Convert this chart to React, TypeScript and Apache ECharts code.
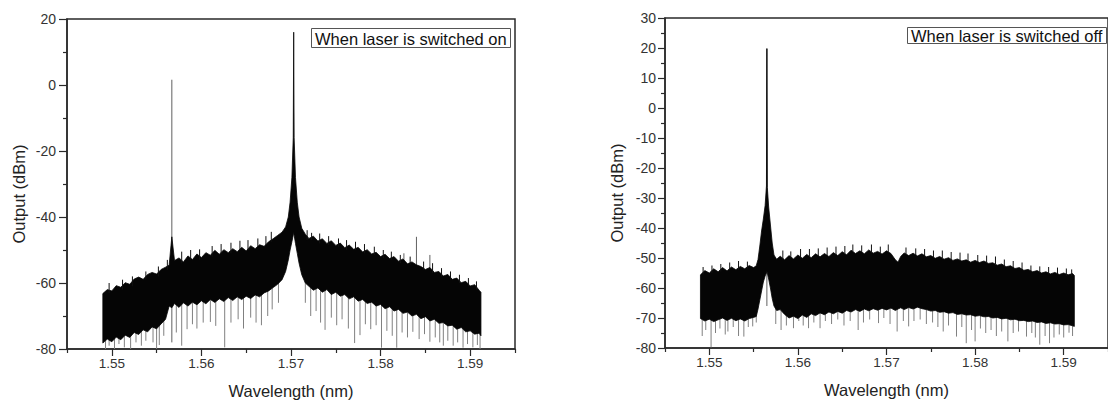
import React, { useEffect, useRef } from "react";
import * as echarts from "echarts";

// ---------- Panel 1: laser switched on ----------
const onWl = [
  1.5490, 1.5495, 1.5500, 1.5505, 1.5510, 1.5515, 1.5520, 1.5525, 1.5530, 1.5535,
  1.5540, 1.5545, 1.5550, 1.5555, 1.5560, 1.5564, 1.5567, 1.5570, 1.5575, 1.5580,
  1.5585, 1.5590, 1.5595, 1.5600, 1.5605, 1.5610, 1.5615, 1.5620, 1.5625, 1.5630,
  1.5635, 1.5640, 1.5645, 1.5650, 1.5655, 1.5660, 1.5665, 1.5670, 1.5675, 1.5680,
  1.5685, 1.5690, 1.5694, 1.5697, 1.5699, 1.5701, 1.57025, 1.5703, 1.57035, 1.5705,
  1.5707, 1.5709, 1.5712, 1.5716, 1.5720, 1.5725, 1.5730, 1.5735, 1.5740, 1.5745,
  1.5750, 1.5755, 1.5760, 1.5765, 1.5770, 1.5775, 1.5780, 1.5785, 1.5790, 1.5795,
  1.5800, 1.5805, 1.5810, 1.5815, 1.5820, 1.5825, 1.5830, 1.5835, 1.5840, 1.5845,
  1.5850, 1.5855, 1.5860, 1.5865, 1.5870, 1.5875, 1.5880, 1.5885, 1.5890, 1.5895,
  1.5900, 1.5905, 1.5910, 1.5912,
];
const onHigh = [
  -63.2, -62.0, -62.4, -60.8, -61.3, -59.9, -60.4, -58.8, -58.2, -58.9,
  -57.4, -56.8, -57.3, -55.9, -55.2, -54.6, -46.0, -53.2, -52.4, -53.6,
  -51.8, -52.9, -51.2, -52.3, -50.8, -51.6, -50.1, -51.3, -49.9, -50.8,
  -49.6, -50.5, -49.2, -50.3, -48.7, -49.6, -48.4, -48.9, -47.5, -46.6,
  -45.6, -44.6, -43.0, -40.0, -35.5, -28.0, -16.0, 16.0, -16.0, -28.0,
  -35.5, -40.0, -43.4, -45.2, -46.5, -45.8, -47.3, -46.6, -48.0, -47.2,
  -48.6, -47.9, -49.3, -48.5, -49.8, -49.2, -50.6, -49.9, -51.2, -50.7,
  -52.0, -51.3, -52.6, -52.0, -53.4, -52.7, -54.2, -53.6, -54.5, -55.0,
  -55.9, -55.3, -56.8, -56.5, -57.9, -57.4, -58.9, -58.5, -59.9, -59.5,
  -60.9, -60.5, -62.2, -62.8,
];
const onLow = [
  -78.2, -77.0, -77.8, -76.4, -77.2, -75.8, -76.5, -75.0, -75.6, -74.2,
  -74.8, -73.3, -73.9, -72.4, -71.0, -67.0, -67.5, -66.2, -67.4, -66.0,
  -67.0, -65.8, -66.6, -65.4, -66.3, -65.0, -65.9, -64.8, -65.6, -64.4,
  -65.3, -64.2, -65.0, -64.0, -64.7, -63.6, -64.2, -63.0, -62.4, -61.4,
  -60.4, -59.0, -56.5, -53.0, -50.0, -47.5, -45.5, -44.5, -45.5, -48.0,
  -51.0, -54.0, -57.5, -60.0, -61.0, -62.2, -61.5, -62.8, -62.0, -63.5,
  -62.8, -64.0, -63.5, -64.8, -64.2, -65.5, -65.0, -66.2, -65.8, -67.0,
  -66.5, -67.8, -67.2, -68.5, -68.0, -69.2, -68.8, -70.0, -69.5, -70.8,
  -70.2, -71.5, -71.0, -72.2, -72.0, -73.0, -72.8, -74.0, -73.5, -74.8,
  -74.5, -75.5, -75.2, -76.0,
];
// [wavelength, top, bottom] of the grey dips below the dense band
const onDips = [
  [1.5493, -75, -80], [1.5497, -74, -79], [1.5503, -74, -80], [1.5508, -73, -78.5],
  [1.5514, -73, -79.5], [1.5521, -73, -80], [1.5527, -72, -78], [1.5533, -72, -79],
  [1.5538, -71, -77.5], [1.5546, -70, -78], [1.555, -70, -80], [1.5553, -69, -78.8],
  [1.5558, -68, -76], [1.5572, -64, -75], [1.5578, -64, -79], [1.5584, -64, -74],
  [1.559, -63, -72.5], [1.5595, -63, -73.8], [1.5602, -63, -72], [1.561, -62, -71.8],
  [1.5616, -63, -73], [1.5626, -62, -79.5], [1.5633, -62, -72], [1.5641, -62, -71],
  [1.5647, -62, -73.8], [1.5655, -61, -70.5], [1.5661, -61, -72], [1.5667, -61, -72.8],
  [1.5674, -60, -70], [1.5679, -59, -68], [1.5686, -58, -66], [1.5716, -57, -66],
  [1.5722, -58, -70], [1.5728, -59, -68.5], [1.5733, -59, -72], [1.5738, -60, -74.2],
  [1.5745, -60, -70.5], [1.5751, -60, -72.8], [1.5757, -61, -71], [1.5764, -62, -73.8],
  [1.5771, -62, -78.2], [1.5777, -63, -75.8], [1.5783, -63, -72.5], [1.5789, -63, -74],
  [1.5795, -64, -72.8], [1.5801, -64, -79.6], [1.5807, -65, -74.5], [1.5813, -65, -76],
  [1.5818, -66, -79.6], [1.5824, -66, -75], [1.583, -66, -76.5], [1.5836, -67, -74.8],
  [1.5843, -68, -77], [1.5849, -68, -75.5], [1.5855, -69, -77.8], [1.5861, -69, -76.5],
  [1.5866, -70, -78], [1.587, -70, -79], [1.5875, -70, -77.5], [1.5881, -70, -79],
  [1.5886, -71, -78], [1.5892, -71, -79.6], [1.5897, -72, -78.5], [1.5903, -72, -79.5],
  [1.5908, -73, -78.8], [1.5911, -73, -80],
];
// [wavelength, bottom, top] of noise hairs poking above the dense band
const onHairs = [
  [1.5497, -63, -60], [1.5512, -62, -59], [1.5523, -61, -58], [1.5538, -59, -56.5],
  [1.5552, -58, -55], [1.5562, -56, -53], [1.5578, -54, -50.5], [1.5588, -53, -50],
  [1.5598, -53, -49.8], [1.5612, -52, -48.8], [1.5622, -51, -48.2], [1.5633, -51, -47.8],
  [1.5643, -50, -47.2], [1.5652, -50, -47], [1.5663, -49, -46.5], [1.5672, -48.5, -45.8],
  [1.5678, -47.5, -44.5], [1.5718, -47, -44], [1.5723, -47, -44.8], [1.5732, -48, -45],
  [1.5742, -48.5, -45.8], [1.5753, -49, -46.5], [1.5762, -50, -47], [1.5772, -50, -47.5],
  [1.5782, -51, -48.2], [1.5793, -51.5, -49], [1.5803, -52.5, -50], [1.5812, -53, -50.5],
  [1.5822, -54, -51.5], [1.5833, -54.5, -52], [1.5848, -56, -53.5], [1.5858, -57, -54],
  [1.5868, -58, -55.5], [1.5878, -59, -56.5], [1.5888, -60, -57.5], [1.5898, -61, -58.5],
  [1.5907, -62, -59.5],
];
// [wavelength, bottom, top] of thin upward lines
const onPeaks = [
  [1.5567, -78, 1.6], [1.584, -56, -46], [1.5855, -57, -51.5], [1.5826, -55, -51],
];

// ---------- Panel 2: laser switched off ----------
const offWl = [
  1.5490, 1.5495, 1.5500, 1.5505, 1.5510, 1.5515, 1.5520, 1.5525, 1.5530, 1.5535,
  1.5540, 1.5545, 1.5550, 1.5553, 1.5555, 1.5557, 1.5559, 1.5561, 1.5563, 1.55645,
  1.5565, 1.55655, 1.5567, 1.5569, 1.5571, 1.5573, 1.5576, 1.5580, 1.5585, 1.5590,
  1.5595, 1.5600, 1.5605, 1.5610, 1.5615, 1.5620, 1.5625, 1.5630, 1.5635, 1.5640,
  1.5645, 1.5650, 1.5655, 1.5660, 1.5665, 1.5670, 1.5675, 1.5680, 1.5685, 1.5690,
  1.5695, 1.5700, 1.5705, 1.5710, 1.5713, 1.5716, 1.5720, 1.5725, 1.5730, 1.5735,
  1.5740, 1.5745, 1.5750, 1.5755, 1.5760, 1.5765, 1.5770, 1.5775, 1.5780, 1.5785,
  1.5790, 1.5795, 1.5800, 1.5805, 1.5810, 1.5815, 1.5820, 1.5825, 1.5830, 1.5835,
  1.5840, 1.5845, 1.5850, 1.5855, 1.5860, 1.5865, 1.5870, 1.5875, 1.5880, 1.5885,
  1.5890, 1.5895, 1.5900, 1.5905, 1.5910, 1.5912,
];
const offHigh = [
  -55.6, -54.2, -55.0, -53.6, -54.6, -53.2, -54.3, -53.0, -53.9, -52.8,
  -53.6, -52.5, -53.2, -52.6, -50.5, -46.0, -41.0, -37.0, -32.5, -26.0,
  19.8, -26.5, -33.0, -39.0, -45.0, -49.0, -50.4, -49.4, -50.6, -49.2,
  -50.3, -49.0, -50.1, -48.8, -49.9, -48.6, -49.6, -48.5, -49.5, -48.2,
  -49.2, -47.9, -48.9, -47.4, -48.5, -47.6, -48.6, -47.3, -48.4, -47.8,
  -48.7, -47.6, -48.5, -50.6, -51.4, -49.5, -48.3, -49.2, -48.4, -49.3,
  -48.6, -49.6, -49.2, -50.1, -49.5, -50.4, -49.9, -50.8, -50.3, -51.0,
  -50.6, -51.4, -50.8, -51.5, -51.0, -51.8, -51.6, -52.4, -52.0, -52.9,
  -52.6, -53.5, -53.2, -54.1, -53.8, -54.6, -54.2, -55.0, -54.6, -55.3,
  -54.8, -55.5, -55.0, -55.6, -55.2, -55.8,
];
const offLow = [
  -70.2, -71.0, -70.4, -71.2, -70.6, -70.0, -70.8, -70.1, -70.9, -70.3,
  -71.0, -70.2, -69.8, -69.5, -67.0, -64.0, -61.0, -58.0, -56.0, -55.0,
  -54.5, -55.0, -57.0, -60.0, -63.5, -66.0, -67.5, -67.2, -68.8, -70.0,
  -69.4, -70.2, -69.0, -69.8, -68.6, -69.2, -68.3, -68.9, -68.0, -68.6,
  -67.8, -68.4, -67.5, -68.0, -67.2, -67.8, -67.0, -67.6, -66.9, -67.4,
  -66.8, -67.3, -66.7, -67.5, -67.0, -66.6, -67.2, -66.5, -67.0, -66.4,
  -66.9, -67.2, -67.7, -67.5, -68.1, -67.9, -68.4, -68.2, -68.8, -68.6,
  -69.0, -68.9, -69.4, -69.2, -69.6, -69.5, -70.0, -69.8, -70.3, -70.1,
  -70.6, -70.4, -70.9, -70.8, -71.2, -71.0, -71.5, -71.3, -71.8, -71.6,
  -72.0, -71.9, -72.3, -72.2, -72.6, -72.8,
];
const offDips = [
  [1.5492, -67, -76], [1.5496, -67, -74], [1.5502, -67, -79.8], [1.5507, -67, -75],
  [1.5512, -67, -73.5], [1.5518, -67, -75.5], [1.5521, -67, -74.5], [1.5527, -67, -73],
  [1.5533, -67, -76], [1.5539, -67, -76.2], [1.5544, -67, -73], [1.5549, -66, -72.8],
  [1.5553, -66, -71.5], [1.5575, -63, -72], [1.5581, -64, -74], [1.5587, -65, -72.5],
  [1.5595, -66, -73.4], [1.5601, -66, -71], [1.5606, -66, -72.5], [1.5612, -66, -73.4],
  [1.5618, -65, -71.5], [1.5625, -65, -73.4], [1.5631, -65, -71], [1.5638, -65, -72],
  [1.5645, -64, -70.5], [1.5652, -64, -72.5], [1.5659, -64, -71], [1.5668, -64, -74],
  [1.5674, -64, -71.5], [1.5681, -64, -70.5], [1.5691, -64, -71.7], [1.5697, -63, -70],
  [1.5704, -63, -72], [1.5712, -64, -74.5], [1.5719, -63, -71], [1.5725, -63, -72.8],
  [1.5731, -63, -71], [1.5738, -63, -70.5], [1.5745, -64, -72], [1.5752, -64, -71.5],
  [1.5758, -65, -73], [1.5764, -65, -74.5], [1.577, -65, -72.5], [1.5779, -65, -76.2],
  [1.5785, -65, -73], [1.579, -66, -78.4], [1.5796, -66, -74], [1.58, -66, -77.8],
  [1.5806, -66, -73.5], [1.5812, -66, -75], [1.5818, -66, -74], [1.5824, -67, -76],
  [1.583, -67, -74.5], [1.5837, -67, -77.8], [1.5843, -67, -75], [1.5849, -67, -74.5],
  [1.5858, -68, -76.2], [1.5864, -68, -75], [1.5868, -68, -76.5], [1.5873, -68, -78.9],
  [1.5879, -68, -76], [1.5884, -68, -78.4], [1.5889, -69, -76.5], [1.5895, -69, -75.5],
  [1.59, -69, -76.5], [1.5906, -69, -74.9], [1.591, -69, -76],
];
const offHairs = [
  [1.5493, -55.5, -53], [1.5503, -55, -52.5], [1.5513, -54.5, -52], [1.5523, -54, -51.5],
  [1.5533, -54, -51], [1.5543, -53.5, -51.2], [1.5583, -50.5, -47.5], [1.5592, -50, -47.8],
  [1.5603, -50, -47], [1.5613, -49.5, -47], [1.5623, -49.5, -46.8], [1.5633, -49, -46.5],
  [1.5643, -49, -46.2], [1.5653, -48.5, -46], [1.5662, -48, -45.5], [1.5672, -48, -45.8],
  [1.5683, -48, -45.5], [1.5693, -48.5, -46.2], [1.5702, -48, -45.5], [1.5722, -49, -46.5],
  [1.5733, -49, -46.8], [1.5743, -49.5, -47], [1.5753, -50, -47.5], [1.5763, -50, -47.5],
  [1.5773, -50.5, -48], [1.5783, -51, -48.2], [1.5792, -51, -48.5], [1.5803, -51.5, -49],
  [1.5813, -51.5, -49.2], [1.5823, -52, -49.5], [1.5833, -53, -50.5], [1.5843, -53.5, -51],
  [1.5853, -54, -51.5], [1.5863, -54.5, -52.5], [1.5873, -55, -52.8], [1.5883, -55.5, -53],
  [1.5893, -55.5, -53.2], [1.5903, -56, -53.5], [1.5909, -56, -53.8],
];
const offPeaks = [[1.5565, -66, 19.8]];

// ---------- axes ----------
const xLabelTicks = [1.55, 1.56, 1.57, 1.58, 1.59];
const xMinorTicks = [1.545, 1.555, 1.565, 1.575, 1.585, 1.595];
const xRange = [1.545, 1.595];
const onYRange = [-80, 20];
const onYStep = 20;
const offYRange = [-80, 30];
const offYStep = 10;
const titles = ["When laser is switched on", "When laser is switched off"];

const FONT = "'Liberation Sans', Arial, Helvetica, sans-serif";
const AX = "#2a2a2a";

function bandSeries(idx: number, wl: number[], hi: number[], lo: number[]) {
  return {
    type: "custom",
    xAxisIndex: idx * 2,
    yAxisIndex: idx,
    z: 3,
    clip: true,
    silent: true,
    data: wl.map((w, i) => [w, hi[i], lo[i]]),
    encode: { x: 0, y: [1, 2] },
    renderItem: (params: any, api: any) => {
      if (params.dataIndexInside !== 0) return null;
      const n = wl.length;
      const top: number[][] = [];
      const bottom: number[][] = [];
      for (let j = 0; j < n; j++) {
        const x = api.value(0, j);
        top.push(api.coord([x, api.value(1, j)]));
        bottom.push(api.coord([x, api.value(2, j)]));
      }
      return {
        type: "polygon",
        shape: { points: top.concat(bottom.reverse()) },
        style: { fill: "#050505", stroke: "#050505", lineWidth: 0.8 },
      };
    },
  };
}

function lineSeries(idx: number, rows: number[][], color: string, z: number) {
  return {
    type: "custom",
    xAxisIndex: idx * 2,
    yAxisIndex: idx,
    z,
    clip: true,
    silent: true,
    data: rows,
    encode: { x: 0, y: [1, 2] },
    renderItem: (params: any, api: any) => {
      const a = api.coord([api.value(0), api.value(1)]);
      const b = api.coord([api.value(0), api.value(2)]);
      return {
        type: "line",
        shape: { x1: a[0], y1: a[1], x2: b[0], y2: b[1] },
        style: { stroke: color, lineWidth: 1 },
      };
    },
  };
}

function xAxes(grid: number) {
  return [
    {
      gridIndex: grid,
      type: "value",
      min: xRange[0],
      max: xRange[1],
      position: "bottom",
      name: "Wavelength (nm)",
      nameLocation: "middle",
      nameGap: 33,
      nameTextStyle: { fontFamily: FONT, fontSize: 16.5, color: "#222" },
      axisLine: { show: true, onZero: false, lineStyle: { color: AX, width: 1.5 } },
      axisTick: { show: true, customValues: xLabelTicks, length: 7, lineStyle: { color: AX, width: 1.2 } },
      axisLabel: {
        customValues: xLabelTicks,
        formatter: (v: number) => v.toFixed(2),
        fontFamily: FONT,
        fontSize: 13.5,
        color: "#333",
        margin: 7,
      },
      splitLine: { show: false },
    },
    {
      gridIndex: grid,
      type: "value",
      min: xRange[0],
      max: xRange[1],
      position: "bottom",
      axisLine: { show: false, onZero: false },
      axisTick: { show: true, customValues: xMinorTicks, length: 4, lineStyle: { color: AX, width: 1.2 } },
      axisLabel: { show: false },
      splitLine: { show: false },
    },
  ];
}

function yAxis(grid: number, range: number[], step: number, tickLen: number, margin: number) {
  return {
    gridIndex: grid,
    type: "value",
    min: range[0],
    max: range[1],
    interval: step,
    name: "Output (dBm)",
    nameLocation: "middle",
    nameGap: 40,
    nameTextStyle: { fontFamily: FONT, fontSize: 16.5, color: "#222", padding: [0, 20, 0, 0] },
    axisLine: { show: true, onZero: false, lineStyle: { color: AX, width: 1.5 } },
    axisTick: { show: true, length: tickLen, lineStyle: { color: AX, width: 1.2 } },
    minorTick: { show: true, splitNumber: 2, length: 4, lineStyle: { color: AX, width: 1.2 } },
    axisLabel: { fontFamily: FONT, fontSize: 14, color: "#333", margin },
    splitLine: { show: false },
  };
}

export default function App() {
  const ref = useRef<HTMLDivElement>(null);
  useEffect(() => {
    if (!ref.current) return;
    const chart = echarts.init(ref.current, null, { renderer: "svg" });
    chart.setOption({
      animation: false,
      backgroundColor: "#ffffff",
      title: [
        {
          text: titles[0],
          left: 311,
          top: 28,
          padding: [2, 4, 1, 4],
          borderColor: "#555",
          borderWidth: 1,
          textStyle: { fontFamily: FONT, fontSize: 16.5, fontWeight: "normal", color: "#111" },
        },
        {
          text: titles[1],
          left: 907,
          top: 27,
          padding: [0, 4, 0, 4],
          borderColor: "#555",
          borderWidth: 1,
          textStyle: { fontFamily: FONT, fontSize: 16.5, fontWeight: "normal", color: "#111" },
        },
      ],
      grid: [
        { left: 67, top: 19, width: 448, height: 332, show: true, borderColor: AX, borderWidth: 1.5, backgroundColor: "transparent" },
        { left: 665, top: 18, width: 447, height: 330, show: true, borderColor: AX, borderWidth: 1.5, backgroundColor: "transparent" },
      ],
      xAxis: [...xAxes(0), ...xAxes(1)],
      yAxis: [yAxis(0, onYRange, onYStep, 8, 11), yAxis(1, offYRange, offYStep, 7, 9)],
      series: [
        lineSeries(0, onDips, "#808080", 1),
        lineSeries(0, onPeaks, "#606060", 1),
        bandSeries(0, onWl, onHigh, onLow),
        lineSeries(0, onHairs, "#111111", 4),
        lineSeries(1, offDips, "#808080", 1),
        lineSeries(1, offPeaks, "#606060", 1),
        bandSeries(1, offWl, offHigh, offLow),
        lineSeries(1, offHairs, "#111111", 4),
      ],
    });
    return () => chart.dispose();
  }, []);
  return (
    <div
      ref={ref}
      style={{ position: "fixed", left: 0, top: 0, width: 1108, height: 404, overflow: "hidden", background: "#fff" }}
    />
  );
}
